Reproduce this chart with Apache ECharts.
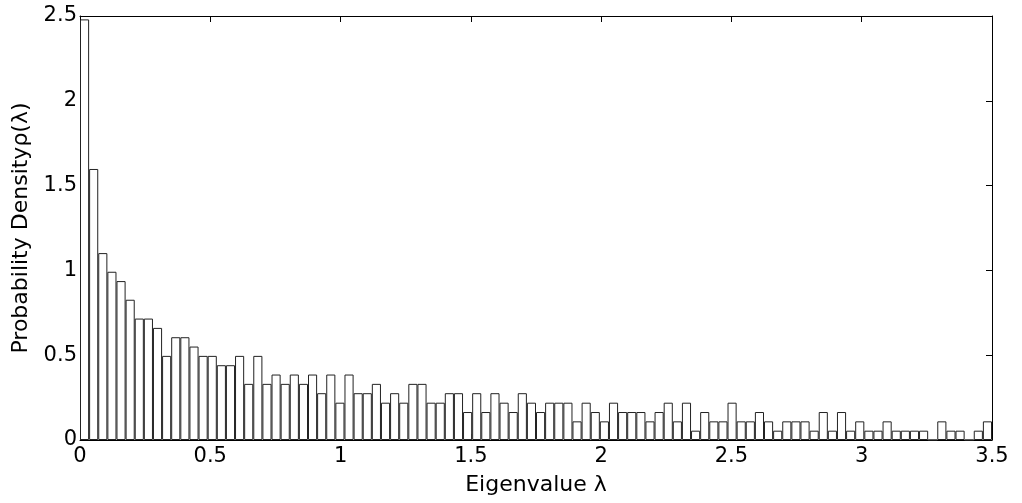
<!DOCTYPE html>
<html>
<head>
<meta charset="utf-8">
<script src="https://cdn.jsdelivr.net/npm/echarts@6/dist/echarts.min.js"></script>
<style>
html,body{margin:0;padding:0;background:#fff;}
#c{width:1022px;height:503px;}
</style>
</head>
<body>
<div id="c"></div>
<script>
// Bin labels (bin start, width 0.035)
const binStarts = [
  0.000,0.035,0.070,0.105,0.140,0.175,0.210,0.245,0.280,0.315,
  0.350,0.385,0.420,0.455,0.490,0.525,0.560,0.595,0.630,0.665,
  0.700,0.735,0.770,0.805,0.840,0.875,0.910,0.945,0.980,1.015,
  1.050,1.085,1.120,1.155,1.190,1.225,1.260,1.295,1.330,1.365,
  1.400,1.435,1.470,1.505,1.540,1.575,1.610,1.645,1.680,1.715,
  1.750,1.785,1.820,1.855,1.890,1.925,1.960,1.995,2.030,2.065,
  2.100,2.135,2.170,2.205,2.240,2.275,2.310,2.345,2.380,2.415,
  2.450,2.485,2.520,2.555,2.590,2.625,2.660,2.695,2.730,2.765,
  2.800,2.835,2.870,2.905,2.940,2.975,3.010,3.045,3.080,3.115,
  3.150,3.185,3.220,3.255,3.290,3.325,3.360,3.395,3.430,3.465
];
// Probability density per bin
const density = [
  2.480,1.598,1.102,0.992,0.937,0.827,0.716,0.716,0.661,0.496,
  0.606,0.606,0.551,0.496,0.496,0.441,0.441,0.496,0.331,0.496,
  0.331,0.386,0.331,0.386,0.331,0.386,0.276,0.386,0.220,0.386,
  0.276,0.276,0.331,0.220,0.276,0.220,0.331,0.331,0.220,0.220,
  0.276,0.276,0.165,0.276,0.165,0.276,0.220,0.165,0.276,0.220,
  0.165,0.220,0.220,0.220,0.110,0.220,0.165,0.110,0.220,0.165,
  0.165,0.165,0.110,0.165,0.220,0.110,0.220,0.055,0.165,0.110,
  0.110,0.220,0.110,0.110,0.165,0.110,0.055,0.110,0.110,0.110,
  0.055,0.165,0.055,0.165,0.055,0.110,0.055,0.055,0.110,0.055,
  0.055,0.055,0.055,0.000,0.110,0.055,0.055,0.000,0.055,0.110
];
const xTicks = [0, 0.5, 1, 1.5, 2, 2.5, 3, 3.5];
const yTicks = [0, 0.5, 1, 1.5, 2, 2.5];

const FONT = 'DejaVu Sans, Liberation Sans, Arial, sans-serif';
const lineStyle = {color:'#000', width:1};
const chart = echarts.init(document.getElementById('c'), null, {renderer:'canvas'});
chart.setOption({
  animation:false,
  backgroundColor:'#fff',
  grid:{left:80, right:30, top:16, bottom:63},
  xAxis:[
    {type:'category', data:binStarts, show:false, boundaryGap:true},
    {type:'value', position:'bottom', min:xTicks[0], max:xTicks[xTicks.length-1], interval:0.5,
     axisLine:{show:true, onZero:false, lineStyle}, axisTick:{show:true, inside:true, length:6, lineStyle},
     splitLine:{show:false},
     axisLabel:{color:'#000', fontSize:21, fontFamily:FONT, margin:6},
     name:'Eigenvalue λ', nameLocation:'middle', nameGap:34,
     nameTextStyle:{color:'#000', fontSize:22, fontFamily:FONT}},
    {type:'value', position:'top', min:xTicks[0], max:xTicks[xTicks.length-1], interval:0.5,
     axisLine:{show:true, onZero:false, lineStyle}, axisTick:{show:true, inside:true, length:6, lineStyle},
     splitLine:{show:false}, axisLabel:{show:false}}
  ],
  yAxis:[
    {type:'value', position:'left', min:yTicks[0], max:yTicks[yTicks.length-1], interval:0.5,
     axisLine:{show:true, onZero:false, lineStyle}, axisTick:{show:true, inside:true, length:6, lineStyle},
     splitLine:{show:false},
     axisLabel:{color:'#000', fontSize:21, fontFamily:FONT, margin:3, padding:[0,0,5,0]},
     name:'Probability Densityρ(λ)', nameLocation:'middle', nameGap:45, nameRotate:90,
     nameTextStyle:{color:'#000', fontSize:22, fontFamily:FONT}},
    {type:'value', position:'right', min:yTicks[0], max:yTicks[yTicks.length-1], interval:0.5,
     axisLine:{show:true, onZero:false, lineStyle}, axisTick:{show:true, inside:true, length:6, lineStyle},
     splitLine:{show:false}, axisLabel:{show:false}}
  ],
  series:[{
    type:'bar', xAxisIndex:0, yAxisIndex:0, data:density,
    barWidth:'100%', barCategoryGap:'0%',
    itemStyle:{color:'#fff', borderColor:'#222', borderWidth:1}
  }]
});
</script>
</body>
</html>
